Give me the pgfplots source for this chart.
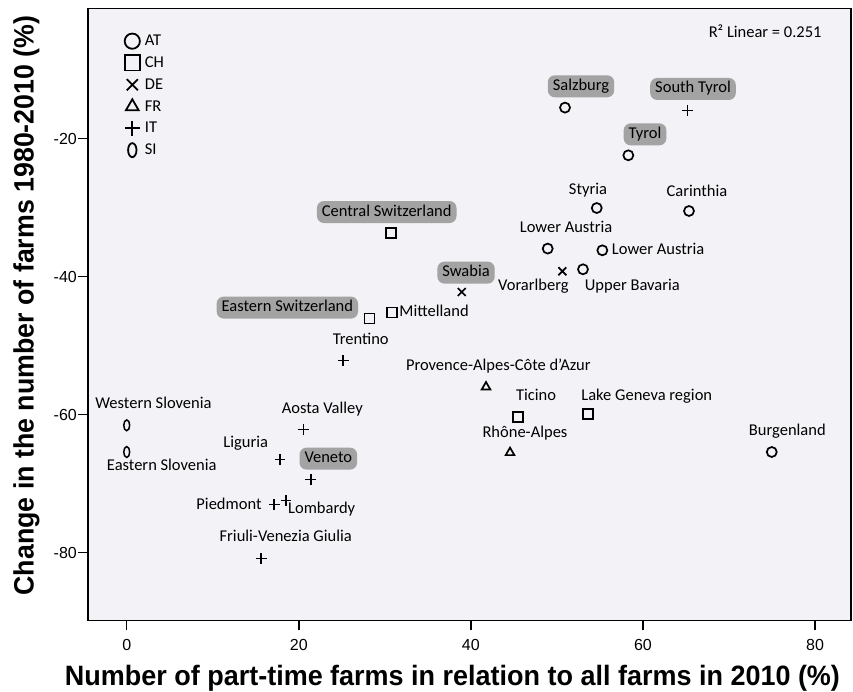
\documentclass[border=0pt]{standalone}
\usepackage{fontspec}
\setmainfont{Carlito}
\newfontfamily\arialf{Liberation Sans}
\usepackage{graphicx}
\usepackage{pgfplots}
\pgfplotsset{compat=1.18}
\definecolor{bg}{RGB}{243,243,247}
\definecolor{boxg}{RGB}{163,163,163}

\begin{document}
\begin{tikzpicture}[
 lab/.style={font=\fontsize{16.5}{19}\selectfont, inner sep=0pt, text height=11pt, text depth=3pt},
 gb/.style={lab, fill=boxg, rounded corners=7pt, inner xsep=5pt, inner ysep=4pt},
]
\path[use as bounding box] (-88pt,-71pt) rectangle (765pt,620.3pt);
\begin{axis}[
 at={(0pt,0pt)}, anchor=south west,
 scale only axis, width=763pt, height=611.7pt,
 xmin=-4.5, xmax=84.18, ymin=-89.81, ymax=-1.16,
 axis background/.style={fill=bg},
 axis line style={line width=1.5pt},
 xtick={0,20,40,60,80}, ytick={-20,-40,-60,-80},
 tick align=outside, major tick length=10pt,
 tick style={line width=1.5pt, black},
 tick pos=left,
 ticklabel style={font=\arialf\fontsize{16}{18}\selectfont},
 /pgf/number format/assume math mode=true,
 xticklabel style={anchor=north, inner sep=0pt, text height=11.5pt, text depth=0pt, yshift=-8pt},
 yticklabel style={anchor=east, inner sep=0pt, xshift=-1pt},
 xlabel={\resizebox{775pt}{\height}{\arialf\bfseries\fontsize{28}{30}\selectfont Number of part-time farms in relation to all farms in 2010 (\%)}},
 xlabel style={at={(rel axis cs:0.4777,0)}, yshift=-65pt, anchor=base, inner sep=0pt},
 ylabel={\resizebox{580pt}{\height}{\arialf\bfseries\fontsize{28}{30}\selectfont Change in the number of farms 1980-2010 (\%)}},
 ylabel style={at={(rel axis cs:-0.0714,0.5147)}, anchor=base, inner sep=0pt},
 legend style={at={(rel axis cs:0.0481,0.9623)}, anchor=north west, draw=none, fill=none,
   inner sep=0pt, outer sep=0pt, row sep=2.8pt, font=\fontsize{16.5}{19}\selectfont,
   nodes={inner ysep=2pt, inner xsep=5pt, text height=12pt, text depth=3pt}},
 legend cell align=left,
]
% legend images
\addlegendimage{only marks, mark=o, mark size=7.6pt, line width=1.8pt}
\addlegendimage{only marks, mark=square, mark size=7.6pt, line width=1.8pt}
\addlegendimage{only marks, mark=x, mark size=7.9pt, line width=1.8pt}
\addlegendimage{only marks, mark=triangle, mark size=7.3pt, line width=1.8pt}
\addlegendimage{only marks, mark=+, mark size=7.5pt, line width=1.8pt}
\addlegendimage{only marks, mark=o, mark size=7pt, line width=1.8pt, mark options={xscale=0.6}}
\legend{AT,CH,DE,FR,IT,SI}

% AT
\addplot[only marks, mark=o, mark size=5pt, line width=1.7pt, forget plot] coordinates {
 (50.94,-15.51) (58.30,-22.42) (54.63,-30.06) (65.35,-30.49)
 (48.93,-35.94) (55.28,-36.19) (53.03,-38.94) (74.97,-65.42)};
% CH
\addplot[only marks, mark=square, mark size=5pt, line width=1.7pt, forget plot] coordinates {
 (30.72,-33.68) (30.87,-45.22) (28.20,-46.09) (45.51,-60.35) (53.65,-59.96)};
% DE
\addplot[only marks, mark=x, mark size=5.6pt, line width=1.7pt, forget plot] coordinates {
 (50.63,-39.23) (38.94,-42.23)};
% FR
\addplot[only marks, mark=triangle, mark size=5pt, line width=1.7pt, forget plot] coordinates {
 (41.76,-56.00) (44.55,-65.51)};
% IT
\addplot[only marks, mark=+, mark size=5.4pt, line width=1.6pt, forget plot] coordinates {
 (65.16,-15.90) (25.17,-52.17) (20.53,-62.17) (17.82,-66.52)
 (21.39,-69.38) (17.15,-73.00) (18.51,-72.42) (15.64,-80.87)};
% SI
\addplot[only marks, mark=o, mark size=5.4pt, line width=1.5pt, mark options={xscale=0.55}, forget plot] coordinates {
 (0,-61.55) (0,-65.42)};

% labels
\node[gb] at (axis cs:52.80,-12.42) {Salzburg};
\node[gb] at (axis cs:65.82,-12.81) {South Tyrol};
\node[gb] at (axis cs:60.24,-19.38) {Tyrol};
\node[lab] at (axis cs:53.61,-27.59) {Styria};
\node[lab] at (axis cs:66.28,-27.74) {Carinthia};
\node[lab] at (axis cs:51.06,-32.96) {Lower Austria};
\node[lab, anchor=west] at (axis cs:56.37,-36.19) {Lower Austria};
\node[lab] at (axis cs:47.26,-41.41) {Vorarlberg};
\node[lab] at (axis cs:58.76,-41.41) {Upper Bavaria};
\node[gb] at (axis cs:39.44,-39.42) {Swabia};
\node[lab, anchor=west] at (axis cs:31.68,-45.17) {Mittelland};
\node[gb] at (axis cs:18.67,-44.49) {Eastern Switzerland};
\node[gb] at (axis cs:30.22,-30.64) {Central Switzerland};
\node[lab] at (axis cs:27.20,-49.23) {Trentino};
\node[lab] at (axis cs:43.19,-53.10) {Provence-Alpes-Côte d'Azur};
\node[lab] at (axis cs:47.57,-57.35) {Ticino};
\node[lab] at (axis cs:60.44,-57.35) {Lake Geneva region};
\node[lab] at (axis cs:46.29,-62.67) {Rhône-Alpes};
\node[lab] at (axis cs:76.78,-62.42) {Burgenland};
\node[lab, anchor=east] at (axis cs:9.88,-58.55) {Western Slovenia};
\node[lab] at (axis cs:4.07,-67.59) {Eastern Slovenia};
\node[lab] at (axis cs:22.73,-59.28) {Aosta Valley};
\node[lab] at (axis cs:13.83,-64.12) {Liguria};
\node[gb] at (axis cs:23.43,-66.38) {Veneto};
\node[lab] at (axis cs:11.89,-73.14) {Piedmont};
\node[lab] at (axis cs:22.66,-73.77) {Lombardy};
\node[lab] at (axis cs:18.48,-77.88) {Friuli-Venezia Giulia};
\node[lab, anchor=east] at (axis cs:80.78,-4.74) {R² Linear = 0.251};
\end{axis}
\end{tikzpicture}
\end{document}
